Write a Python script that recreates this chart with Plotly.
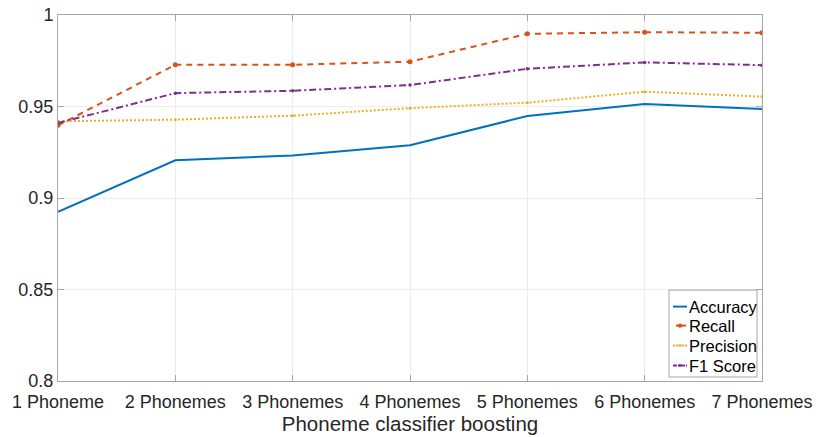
import plotly.graph_objects as go

# Classifier configurations along the x axis
categories = ["1 Phoneme", "2 Phonemes", "3 Phonemes", "4 Phonemes",
              "5 Phonemes", "6 Phonemes", "7 Phonemes"]

# Metric values per configuration
accuracy = [0.8924, 0.9206, 0.9232, 0.9288, 0.9448, 0.9513, 0.9486]
recall = [0.9397, 0.9728, 0.9728, 0.9745, 0.9897, 0.9906, 0.9903]
precision = [0.9419, 0.9428, 0.9450, 0.9491, 0.9521, 0.9581, 0.9554]
f1_score = [0.9410, 0.9573, 0.9586, 0.9617, 0.9706, 0.9741, 0.9726]

y_ticks = [0.8, 0.85, 0.9, 0.95, 1.0]
y_tick_text = ["0.8", "0.85", "0.9", "0.95", "1"]

FONT = "Liberation Sans, Arial, sans-serif"
AXIS_GRAY = "#a6a6a6"
TEXT = "#262626"

W, H = 819, 437
M_L, M_R, M_T, M_B = 58, 57, 14.5, 56
PW, PH = W - M_L - M_R, H - M_T - M_B


def px_to_paper(px, py):
    """Convert pixel position (from top-left) to paper coordinates."""
    return (px - M_L) / PW, (H - M_B - py) / PH


series = [
    dict(name="Accuracy", y=accuracy, color="#0072BD", dash="solid", marker=0),
    dict(name="Recall", y=recall, color="#D95319", dash="6px,5px", marker=5),
    dict(name="Precision", y=precision, color="#EDB120", dash="2px,2px", marker=3),
    dict(name="F1 Score", y=f1_score, color="#7E2F8E", dash="7px,3px,2px,3px", marker=3.5),
]

fig = go.Figure()
for s in series:
    fig.add_trace(go.Scatter(
        x=categories, y=s["y"], name=s["name"],
        mode="lines+markers" if s["marker"] else "lines",
        line=dict(color=s["color"], width=2, dash=s["dash"]),
        marker=dict(size=s["marker"] or 1, color=s["color"]),
        showlegend=False))

axis_common = dict(
    showline=True, linecolor=AXIS_GRAY, linewidth=1, mirror="ticks",
    ticks="inside", ticklen=6, tickcolor=AXIS_GRAY, tickwidth=1,
    showgrid=True, gridcolor="#ececec", gridwidth=1, zeroline=False,
    tickfont=dict(family=FONT, size=18, color=TEXT), automargin=False,
)

fig.update_xaxes(
    type="category", range=[0, 6], categoryorder="array", categoryarray=categories,
    ticklabelstandoff=4,
    title=dict(text="Phoneme classifier boosting",
               font=dict(family=FONT, size=20.5, color=TEXT), standoff=4),
    **axis_common)
fig.update_yaxes(
    range=[0.8, 1.0], tickvals=y_ticks, ticktext=y_tick_text,
    **axis_common)

# Compact legend box in the lower-right corner of the axes
box_l, box_r, box_t, box_b = 669, 757, 290, 377
x0, y0 = px_to_paper(box_l, box_b)
x1, y1 = px_to_paper(box_r, box_t)
shapes = [dict(type="rect", xref="paper", yref="paper", x0=x0, y0=y0, x1=x1, y1=y1,
               line=dict(color=AXIS_GRAY, width=1), fillcolor="white", layer="above")]
annotations = []
row_y = [306.5, 325.5, 345.5, 365.5]
for s, ry in zip(series, row_y):
    lx0, ly = px_to_paper(673, ry)
    lx1, _ = px_to_paper(687, ry)
    dash = "solid" if s["dash"] == "solid" else ("dot" if s["dash"] == "2px,2px" else
                                                  ("dash" if s["dash"] == "6px,5px" else "dashdot"))
    if s["name"] == "Recall":
        dash = "solid"
        lx0, _ = px_to_paper(676, ry)
        lx1, _ = px_to_paper(686, ry)
    shapes.append(dict(type="line", xref="paper", yref="paper", x0=lx0, x1=lx1, y0=ly, y1=ly,
                       line=dict(color=s["color"], width=2,
                                 dash="2px,1px" if s["name"] == "Precision" else
                                 ("4px,1px,2px,1px" if s["name"] == "F1 Score" else "solid")),
                       layer="above"))
    if s["marker"]:
        cx, cy = px_to_paper(680, ry)
        r = 2.2 if s["name"] == "Recall" else 1.4
        rx, ry_ = r / PW, r / PH
        shapes.append(dict(type="circle", xref="paper", yref="paper",
                           x0=cx - rx, x1=cx + rx, y0=cy - ry_, y1=cy + ry_,
                           fillcolor=s["color"], line=dict(width=0), layer="above"))
    tx, ty = px_to_paper(687, ry)
    annotations.append(dict(x=tx, y=ty, xref="paper", yref="paper", text=s["name"],
                            showarrow=False, xanchor="left", yanchor="middle",
                            font=dict(family=FONT, size=16.5, color="#000000")))

fig.update_layout(
    width=W, height=H,
    margin=dict(l=M_L, r=M_R, t=M_T, b=M_B),
    paper_bgcolor="white", plot_bgcolor="white",
    font=dict(family=FONT, color=TEXT),
    shapes=shapes, annotations=annotations,
    showlegend=False,
)

fig.write_html("out.html")
